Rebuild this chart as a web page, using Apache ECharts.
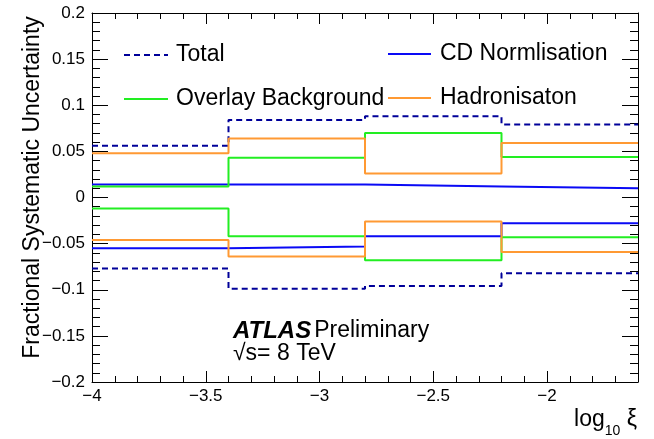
<!DOCTYPE html>
<html>
<head>
<meta charset="utf-8">
<script src="https://cdn.jsdelivr.net/npm/echarts@6/dist/echarts.min.js"></script>
<style>
  html, body { margin: 0; padding: 0; background: #fff; }
  #main { width: 654px; height: 439px; }
</style>
</head>
<body>
<div id="main"></div>
<script>
// bin edges in log10(xi)
var binEdges = [-4, -3.4, -2.8, -2.2, -1.6];

// fractional uncertainties per bin (up / down)
var totalUp     = [0.056, 0.084, 0.088, 0.079];
var totalDown   = [-0.077, -0.099, -0.096, -0.082];
var cdUp        = [0.014, 0.014, 0.012, 0.010];
var cdDown      = [-0.055, -0.053, -0.042, -0.028];
var overlayUp   = [0.012, 0.043, 0.070, 0.044];
var overlayDown = [-0.012, -0.042, -0.068, -0.043];
var hadUp       = [0.048, 0.064, 0.026, 0.059];
var hadDown     = [-0.046, -0.064, -0.026, -0.059];

var FONT = 'Liberation Sans, Arial, sans-serif';

function steps(vals) {
    var out = [];
    for (var i = 0; i < vals.length; i++) {
        out.push([binEdges[i], vals[i]]);
    }
    out.push([binEdges[binEdges.length - 1], vals[vals.length - 1]]);
    return out;
}

function histo(name, vals, color, dashed) {
    return {
        name: name,
        type: 'line',
        step: 'end',
        symbol: 'none',
        data: steps(vals),
        lineStyle: {
            color: color,
            width: 2,
            type: dashed ? [6, 4] : 'solid'
        },
        itemStyle: { color: color }
    };
}

function minus(v) {
    return String(v).replace('-', '\u2212');
}

var myChart = echarts.init(document.getElementById('main'));

// legend boxes, no marker, just the line sample
var legendCommon = {
    orient: 'vertical',
    itemWidth: 44,
    itemHeight: 24,
    itemGap: 20,
    itemStyle: { opacity: 0 },
    textStyle: { fontSize: 23, lineHeight: 24, color: '#000', fontFamily: FONT }
};

myChart.setOption({
    animation: false,
    backgroundColor: '#fff',
    textStyle: { fontFamily: FONT },
    grid: { left: 92, right: 16, top: 13, bottom: 57 },
    legend: [
        echarts.util.merge({
            data: ['Total', 'Overlay Background'],
            left: 118,
            top: 38,
            textStyle: { padding: [0, 0, 0, 3] }
        }, legendCommon),
        echarts.util.merge({
            data: ['CD Normlisation', 'Hadronisaton'],
            left: 382,
            top: 37,
            itemWidth: 43,
            textStyle: { padding: [0, 0, 0, 4] }
        }, legendCommon)
    ],
    xAxis: [{
        type: 'value',
        min: -4,
        max: -1.6,
        interval: 0.5,
        axisLine: { onZero: false, lineStyle: { color: '#000', width: 1 } },
        axisTick: { inside: true, length: 11, lineStyle: { color: '#000' } },
        minorTick: { show: true, splitNumber: 5, length: 6, lineStyle: { color: '#000' } },
        splitLine: { show: false },
        axisLabel: {
            color: '#000', fontSize: 17, fontFamily: FONT, margin: 6,
            showMaxLabel: false,
            formatter: minus
        }
    }, {
        type: 'value',
        position: 'top',
        min: -4,
        max: -1.6,
        interval: 0.5,
        axisLine: { onZero: false, lineStyle: { color: '#000', width: 1 } },
        axisTick: { inside: true, length: 11, lineStyle: { color: '#000' } },
        minorTick: { show: true, splitNumber: 5, length: 6, lineStyle: { color: '#000' } },
        splitLine: { show: false },
        axisLabel: { show: false }
    }],
    yAxis: [{
        type: 'value',
        min: -0.2,
        max: 0.2,
        interval: 0.05,
        name: 'Fractional Systematic Uncertainty',
        nameLocation: 'middle',
        nameGap: 48,
        nameMoveOverlap: false,
        nameTextStyle: { color: '#000', fontSize: 23, fontFamily: FONT, padding: [0, 0, 0, 20] },
        axisLine: { onZero: false, lineStyle: { color: '#000', width: 1 } },
        axisTick: { inside: true, length: 16, lineStyle: { color: '#000' } },
        minorTick: { show: true, splitNumber: 5, length: 8, lineStyle: { color: '#000' } },
        splitLine: { show: false },
        axisLabel: { color: '#000', fontSize: 17, fontFamily: FONT, margin: 7, formatter: minus }
    }, {
        type: 'value',
        position: 'right',
        min: -0.2,
        max: 0.2,
        interval: 0.05,
        axisLine: { onZero: false, lineStyle: { color: '#000', width: 1 } },
        axisTick: { inside: true, length: 16, lineStyle: { color: '#000' } },
        minorTick: { show: true, splitNumber: 5, length: 8, lineStyle: { color: '#000' } },
        splitLine: { show: false },
        axisLabel: { show: false }
    }],
    graphic: [{
        type: 'text',
        right: 17,
        top: 408,
        style: {
            text: '{a|log}{b|10}{a| \u03be}',
            fill: '#000',
            rich: {
                a: { fontSize: 23, fontFamily: FONT, fill: '#000', verticalAlign: 'bottom' },
                b: { fontSize: 14, fontFamily: FONT, fill: '#000', verticalAlign: 'bottom', padding: [0, 0, -7, 0] }
            }
        }
    }, {
        type: 'text',
        left: 233,
        top: 319,
        style: {
            text: '{b|ATLAS}{n|Preliminary}',
            rich: {
                b: { fontSize: 24, fontWeight: 'bold', fontStyle: 'italic', fontFamily: FONT, fill: '#000', padding: [0, 3, 0, 0] },
                n: { fontSize: 23, fontFamily: FONT, fill: '#000' }
            }
        }
    }, {
        type: 'text',
        left: 233,
        top: 342,
        style: {
            text: '\u221as= 8 TeV',
            font: '23px ' + FONT,
            fill: '#000'
        }
    }],
    series: [
        histo('Total', totalUp, '#000099', true),
        histo('Total', totalDown, '#000099', true),
        histo('CD Normlisation', cdUp, '#0a0af5', false),
        histo('CD Normlisation', cdDown, '#0a0af5', false),
        histo('Overlay Background', overlayUp, '#22ee22', false),
        histo('Overlay Background', overlayDown, '#22ee22', false),
        histo('Hadronisaton', hadUp, '#ff9933', false),
        histo('Hadronisaton', hadDown, '#ff9933', false)
    ]
});
</script>
</body>
</html>
